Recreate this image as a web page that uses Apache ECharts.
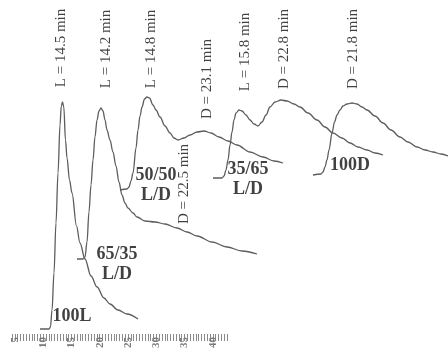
<!DOCTYPE html>
<html>
<head>
<meta charset="utf-8">
<script src="https://cdn.jsdelivr.net/npm/echarts@6/dist/echarts.min.js"></script>
<style>
    html, body { margin: 0; padding: 0; background: #fff; }
    #chart1 { width: 448px; height: 352px; }
</style>
</head>
<body>
<div id="chart1"></div>
<script>
// traces: [time (min), signal]
var trace100L = [[9.42, 5], [11.01, 5], [11.27, 7], [11.54, 24], [11.89, 61], [12.24, 111], [12.60, 161], [12.95, 209], [13.18, 228], [13.39, 232], [13.62, 227], [13.92, 194], [14.19, 176], [14.63, 154], [15.07, 141], [15.87, 108], [16.48, 91], [17.37, 75], [18.43, 58], [19.49, 47], [20.72, 36], [21.78, 30], [23.20, 24], [24.79, 20], [26.73, 15]];
var trace6535 = [[15.95, 75], [17.01, 75], [17.37, 77], [17.72, 92], [18.07, 122], [18.43, 149], [18.78, 174], [19.13, 197], [19.49, 214], [19.84, 223], [20.19, 226], [20.55, 223], [20.90, 214], [21.25, 204], [21.78, 194], [22.31, 182], [22.84, 168], [23.37, 152], [23.90, 139], [24.43, 131], [24.96, 126], [25.85, 121], [26.55, 117], [27.97, 113], [29.74, 112], [31.50, 110], [33.62, 106], [35.39, 102], [37.16, 98], [39.81, 92], [42.46, 87], [45.11, 83], [47.76, 80]];
var trace5050 = [[23.55, 144], [24.79, 145], [25.14, 147], [25.49, 153], [25.85, 161], [26.38, 186], [26.73, 204], [27.09, 218], [27.44, 227], [27.88, 235], [28.32, 237], [28.76, 236], [29.38, 229], [29.91, 224], [30.62, 217], [31.50, 208], [32.39, 201], [33.09, 196], [33.80, 194], [34.86, 196], [35.92, 199], [37.16, 202], [38.39, 203], [39.63, 201], [41.04, 197], [42.63, 193], [44.22, 189], [46.52, 182], [48.82, 177], [50.76, 173], [52.35, 171]];
var trace3565 = [[39.98, 156], [41.57, 156], [41.93, 158], [42.28, 164], [42.63, 174], [42.99, 189], [43.34, 202], [43.69, 214], [44.05, 221], [44.58, 224], [45.11, 223], [45.81, 219], [46.52, 214], [47.23, 210], [47.93, 208], [48.64, 212], [49.35, 219], [50.05, 227], [50.94, 232], [52.00, 234], [53.06, 233], [54.29, 230], [55.35, 227], [56.77, 221], [58.36, 214], [59.77, 207], [61.18, 201], [62.77, 196], [64.19, 191], [65.60, 187], [67.19, 184], [68.60, 181], [70.02, 179]];
var trace100D = [[57.65, 159], [59.06, 160], [59.42, 162], [59.77, 167], [60.12, 174], [60.48, 184], [61.01, 201], [61.45, 212], [61.89, 219], [62.42, 224], [62.95, 228], [63.66, 230], [64.54, 231], [65.42, 230], [66.31, 227], [67.19, 224], [68.60, 218], [70.02, 211], [71.43, 204], [73.02, 197], [74.43, 192], [76.03, 187], [77.44, 184], [78.85, 182], [80.27, 180], [81.50, 178]];

// sample tags next to each trace
var tagNames = ['100L', '65/35\nL/D', '50/50\nL/D', '35/65\nL/D', '100D'];
var tagPos = [[15.07, 18], [23.02, 70], [29.91, 149], [46.17, 155], [64.19, 169]];

// retention time notes over the peaks
var noteNames = ['L = 14.5 min', 'L = 14.2 min', 'L = 14.8 min', 'D = 23.1 min', 'L = 15.8 min', 'D = 22.8 min', 'D = 21.8 min', 'D = 22.5 min'];
var notePos = [[13.13, 286], [21.08, 285], [29.03, 285], [38.92, 255], [45.64, 282], [52.53, 285], [64.72, 285], [34.86, 150]];

// time ruler
var rulerMin = 4.5;
var rulerMax = 42.5;
var rulerStep = 0.5;
var rulerLabelStep = 5;

var page = {
    font: "'Liberation Serif', 'Times New Roman', serif",
    init: function () {
        var mychart = echarts.init(document.getElementById("chart1"));
        this.load(mychart);
    },
    traceSeries: function (data) {
        return {
            type: 'line',
            data: data,
            smooth: 0.35,
            smoothMonotone: 'x',
            showSymbol: false,
            lineStyle: { color: '#5c5c5c', width: 1.3 },
            z: 2
        };
    },
    textSeries: function (names, pos, rotate, style) {
        var data = names.map(function (n, i) {
            return { name: n, value: pos[i] };
        });
        return {
            type: 'scatter',
            data: data,
            symbolSize: 0,
            silent: true,
            z: 3,
            label: {
                show: true,
                position: 'inside',
                rotate: rotate,
                formatter: '{b}',
                align: 'center',
                verticalAlign: 'middle',
                fontFamily: this.font,
                fontSize: style.fontSize,
                fontWeight: style.fontWeight,
                lineHeight: style.lineHeight,
                color: '#111'
            }
        };
    },
    load: function (mychart) {
        var option = {
            animation: false,
            backgroundColor: '#fff',
            grid: [
                { left: 0, right: 0, top: 0, bottom: 18 },
                { left: 12, width: 215, top: 330, height: 4 }
            ],
            xAxis: [
                { type: 'value', min: 2.35, max: 81.5, show: false },
                {
                    type: 'value', gridIndex: 1,
                    min: rulerMin, max: rulerMax, interval: rulerStep,
                    axisLine: { show: false },
                    splitLine: { show: false },
                    axisTick: { show: true, length: 7, lineStyle: { color: '#8a8a8a', width: 1 } },
                    axisLabel: {
                        rotate: 90,
                        margin: 3,
                        fontFamily: this.font,
                        fontSize: 11,
                        fontWeight: 'bold',
                        color: '#7a7a7a',
                        formatter: function (v) {
                            return Math.abs(v % rulerLabelStep) < 1e-6 ? String(v) : '';
                        }
                    }
                }
            ],
            yAxis: [
                { type: 'value', min: 0, max: 334, show: false },
                { type: 'value', gridIndex: 1, min: 0, max: 1, show: false }
            ],
            series: [
                this.traceSeries(trace100L),
                this.traceSeries(trace6535),
                this.traceSeries(trace5050),
                this.traceSeries(trace3565),
                this.traceSeries(trace100D),
                this.textSeries(tagNames, tagPos, 0, { fontSize: 18, fontWeight: 'bold', lineHeight: 20 }),
                this.textSeries(noteNames, notePos, 90, { fontSize: 15, fontWeight: 'normal', lineHeight: 16 })
            ]
        };
        mychart.setOption(option);
    }
};

page.init();
</script>
</body>
</html>
